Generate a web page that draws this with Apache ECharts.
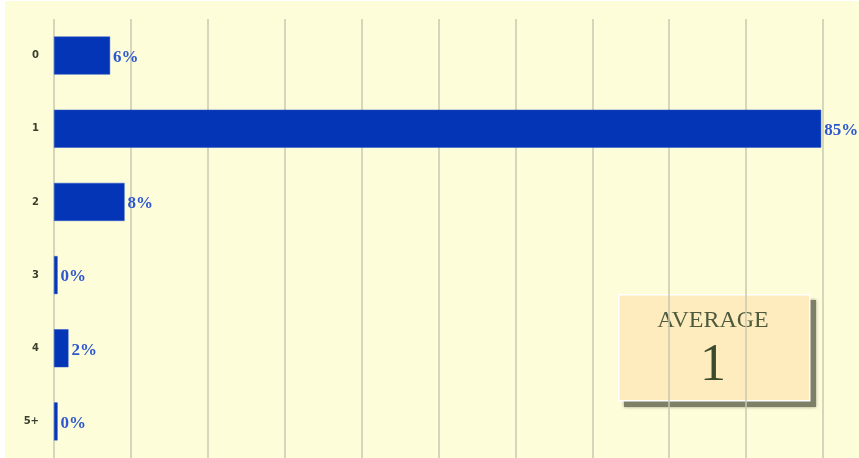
<!DOCTYPE html>
<html>
<head>
<meta charset="utf-8">
<script src="https://cdn.jsdelivr.net/npm/echarts@6/dist/echarts.min.js"></script>
<style>
  html, body { margin: 0; padding: 0; background: #fff; }
  #chart { position: absolute; left: 5px; top: 1px; width: 854px; height: 457px; }
</style>
</head>
<body>
<div id="chart"></div>
<script>
// number of items -> share of answers (%)
const categories = ['0', '1', '2', '3', '4', '5+'];
const shares = [6.2, 84.8, 7.8, 0.4, 1.6, 0.4];
const averageLabel = 'AVERAGE';
const averageValue = '1';

const chart = echarts.init(document.getElementById('chart'));

chart.setOption({
    backgroundColor: '#fdfdda',
    animation: false,
    grid: { left: 49, right: 36, top: 18, bottom: 0 },
    xAxis: {
        type: 'value',
        min: 0,
        max: 85,
        interval: 8.5,
        axisLabel: { show: false },
        axisTick: { show: false },
        axisLine: { show: false },
        splitLine: { lineStyle: { color: '#c9c8b0', width: 1.5 } }
    },
    yAxis: {
        type: 'category',
        data: categories,
        inverse: true,
        axisLine: { show: false },
        axisTick: { show: false },
        axisLabel: {
            margin: 15,
            fontFamily: 'DejaVu Sans',
            fontWeight: 'bold',
            fontSize: 10,
            color: '#3c3f2c'
        }
    },
    series: [{
        type: 'bar',
        data: shares,
        barCategoryGap: '48%',
        itemStyle: { color: '#0335b6', borderColor: '#2d57c8', borderWidth: 0.5 },
        label: {
            show: true,
            position: 'right',
            distance: 3,
            offset: [0, 2],
            fontFamily: 'Liberation Serif',
            fontWeight: 'bold',
            fontSize: 17,
            color: '#2f57d0',
            formatter: p => Math.round(p.value) + '%'
        }
    }],
    graphic: [
        {
            type: 'rect',
            left: 619, top: 299,
            shape: { width: 192, height: 107 },
            style: { fill: '#7d8067', shadowBlur: 3, shadowColor: 'rgba(90,95,70,0.6)' }
        },
        {
            type: 'rect',
            left: 613, top: 293,
            shape: { width: 191, height: 106 },
            style: { fill: '#feecbe', stroke: '#ffffff', lineWidth: 1.5 }
        },
        {
            type: 'text',
            style: {
                x: 708, y: 320, text: averageLabel, align: 'center', verticalAlign: 'middle',
                font: '24px "Liberation Serif"', fill: '#4d5a3c'
            }
        },
        {
            type: 'text',
            style: {
                x: 708, y: 365, text: averageValue, align: 'center', verticalAlign: 'middle',
                font: '52px "Liberation Serif"', fill: '#3b4a2c'
            }
        }
    ]
});
</script>
</body>
</html>
